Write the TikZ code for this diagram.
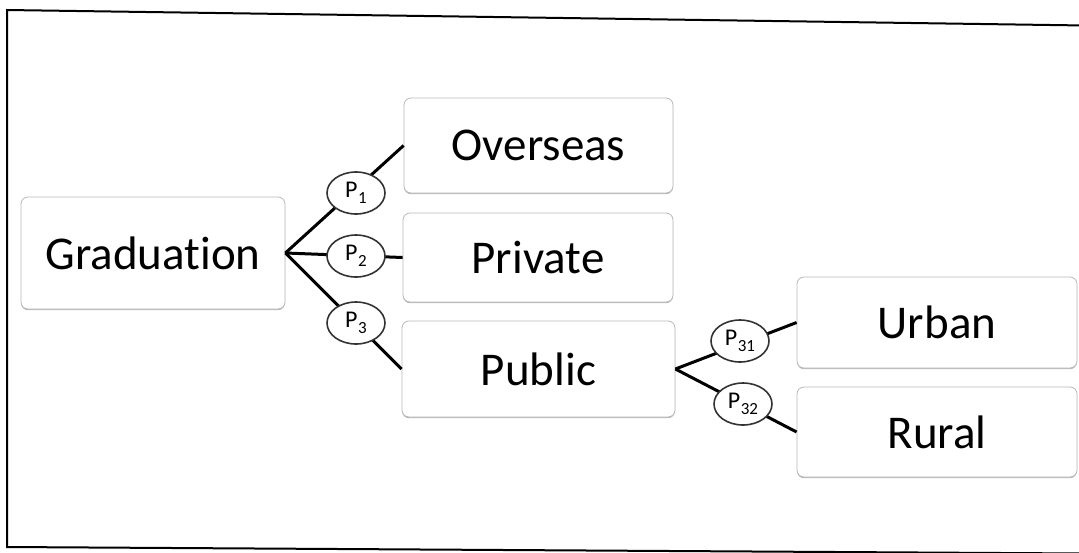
\documentclass[tikz,border=0pt]{standalone}
\usepackage{fontspec}
\setmainfont{Carlito}[Ligatures=CommonOff]
\usetikzlibrary{shapes.geometric,shadows}
\newcommand\Plab[1]{P\kern0.5pt\raisebox{-5.5pt}{\fontsize{17}{17}\selectfont #1}}
\begin{document}
\begin{tikzpicture}[x=1pt,y=-1pt,
 box/.style={draw=gray!55, line width=0.8pt, rounded corners=7pt, fill=white,
   drop shadow={shadow xshift=0pt, shadow yshift=-1.2pt, fill=gray!70, opacity=0.8},
   inner sep=0pt, font=\fontsize{47}{56}\selectfont},
 prob/.style={ellipse, draw=black!80, line width=1.6pt, fill=white,
   minimum width=58pt, minimum height=42pt, inner sep=0pt, font=\fontsize{24}{26}\selectfont},
 link/.style={line width=3pt, black},
 frame/.style={line width=2pt, black}]
\useasboundingbox (0,0) rectangle (1079,552);
\clip (0,0) rectangle (1079,552);
\draw[frame] (1085,25.5) -- (7,10) -- (7,547) -- (1085,553.5);

\node[box, minimum width=264pt, minimum height=112pt] (grad)  at (153,253)   {Graduation};
\node[box, minimum width=269pt, minimum height=95pt]  (over)  at (538.5,145.5) {Overseas};
\node[box, minimum width=270pt, minimum height=89pt]  (priv)  at (538,257.5) {Private};
\node[box, minimum width=273pt, minimum height=96pt]  (pub)   at (538.5,369) {Public};
\node[box, minimum width=280pt, minimum height=91pt]  (urban) at (937,322.5) {Urban};
\node[box, minimum width=280pt, minimum height=90pt]  (rural) at (937,432)   {Rural};

\draw[link] (grad.east) -- (over.west);
\draw[link] (grad.east) -- (priv.west);
\draw[link] (grad.east) -- (pub.west);
\draw[link] (pub.east) -- (urban.west);
\draw[link] (pub.east) -- (rural.west);

\node[prob] (p1)  at (356,193) {\Plab{1}};
\node[prob] (p2)  at (356,256) {\Plab{2}};
\node[prob] (p3)  at (356,323) {\Plab{3}};
\node[prob] (p31) at (740,341) {\Plab{31}};
\node[prob] (p32) at (743,404) {\Plab{32}};
\end{tikzpicture}
\end{document}
